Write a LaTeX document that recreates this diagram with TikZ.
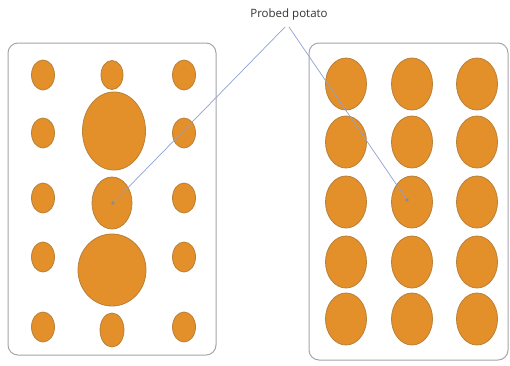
\documentclass[tikz,border=0pt]{standalone}
\usepackage{fontspec}
\setmainfont{Open Sans}
\definecolor{potato}{RGB}{227,143,42}
\definecolor{potatoedge}{RGB}{185,128,55}
\definecolor{boxedge}{RGB}{165,165,170}
\definecolor{probeline}{RGB}{145,160,210}
\begin{document}
\begin{tikzpicture}[x=1pt,y=-1pt,
  tray/.style={draw=boxedge,line width=1pt,rounded corners=10pt},
  spud/.style={fill=potato,draw=potatoedge,line width=0.8pt},
  probe/.style={draw=probeline,line width=0.7pt},
  lbl/.style={font=\fontsize{11.5}{13}\selectfont,text=black!80,inner sep=1pt}]
\useasboundingbox (0,0) rectangle (510,365);
% trays
\draw[tray] (8,43) rectangle (216,355);
\draw[tray] (309,43) rectangle (508,360);
% left tray: small potatoes
\foreach \x in {43,184}{
  \foreach \y in {75,133,198,257,327}{
    \fill[spud] (\x,\y) ellipse [x radius=11.5, y radius=15];
  }
}
\fill[spud] (112,75) ellipse [x radius=11, y radius=14.5];
\fill[spud] (112,330) ellipse [x radius=12, y radius=17];
% left tray: large potatoes
\fill[spud] (114,131) ellipse [x radius=31.5, y radius=39];
\fill[spud] (112,270) ellipse [x radius=34, y radius=36];
\fill[spud] (112,203) ellipse [x radius=20, y radius=26];
% right tray
\foreach \x in {346,412,477}{
  \foreach \y in {84,142,202,262,319}{
    \fill[spud] (\x,\y) ellipse [x radius=20.5, y radius=26];
  }
}
% probe points
\coordinate (pl) at (113,203);
\coordinate (pr) at (407,200);
\node[lbl] (label) at (289,15) {Probed potato};
\coordinate (apexl) at (285,27);
\coordinate (apexr) at (289,27);
\draw[probe] (apexl) -- (pl);
\draw[probe] (apexr) -- (pr);
\fill[black!45] (pl) circle (1.8);
\fill[black!45] (pr) circle (1.8);
\end{tikzpicture}
\end{document}
